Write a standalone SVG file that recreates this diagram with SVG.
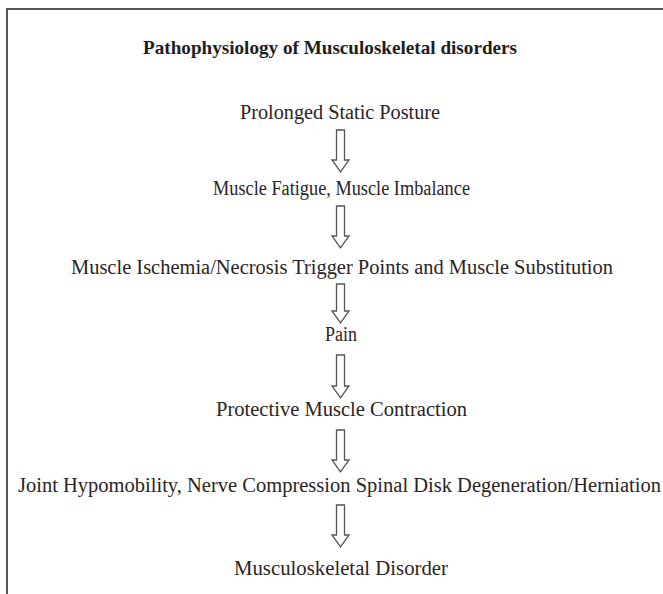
<svg xmlns="http://www.w3.org/2000/svg" width="663" height="594" viewBox="0 0 663 594">
<style>
.t{font-family:"Liberation Serif","Times New Roman",serif;font-size:20px;fill:#2b2424;text-anchor:middle}
.h{font-family:"Liberation Serif","Times New Roman",serif;font-size:19px;font-weight:bold;fill:#1e1e1e;text-anchor:middle}
.a{fill:#fff;stroke:#555;stroke-width:1.3;stroke-linejoin:miter}
.b{fill:none;stroke:#555;stroke-width:2}
</style>
<rect width="663" height="594" fill="#fff"/>
<path class="b" d="M7,594 V9 H663"/>
<g id="title"><text class="h" x="330" y="54" textLength="374" lengthAdjust="spacingAndGlyphs">Pathophysiology of Musculoskeletal disorders</text></g>
<g id="n1"><text class="t" x="340" y="119" textLength="200" lengthAdjust="spacingAndGlyphs">Prolonged Static Posture</text></g>
<g id="n2"><text class="t" x="341.5" y="195" textLength="257" lengthAdjust="spacingAndGlyphs">Muscle Fatigue, Muscle Imbalance</text></g>
<g id="n3"><text class="t" x="342" y="274" textLength="542" lengthAdjust="spacingAndGlyphs">Muscle Ischemia/Necrosis Trigger Points and Muscle Substitution</text></g>
<g id="n4"><text class="t" x="341" y="341" textLength="32" lengthAdjust="spacingAndGlyphs">Pain</text></g>
<g id="n5"><text class="t" x="341.5" y="416" textLength="251" lengthAdjust="spacingAndGlyphs">Protective Muscle Contraction</text></g>
<g id="n6"><text class="t" x="339.5" y="492" textLength="643" lengthAdjust="spacingAndGlyphs">Joint Hypomobility, Nerve Compression Spinal Disk Degeneration/Herniation</text></g>
<g id="n7"><text class="t" x="341" y="575" textLength="214" lengthAdjust="spacingAndGlyphs">Musculoskeletal Disorder</text></g>
<g id="connectors">
<path class="a" d="M336.5,130 H344.5 V160 H349 L340.5,172 L332,160 H336.5 Z"/>
<path class="a" d="M336.5,206 H344.5 V236 H349 L340.5,248 L332,236 H336.5 Z"/>
<path class="a" d="M336.5,284 H344.5 V311 H349 L340.5,323 L332,311 H336.5 Z"/>
<path class="a" d="M336.5,355 H344.5 V386 H349 L340.5,398 L332,386 H336.5 Z"/>
<path class="a" d="M336.5,430 H344.5 V460 H349 L340.5,472 L332,460 H336.5 Z"/>
<path class="a" d="M336.5,505 H344.5 V535 H349 L340.5,547 L332,535 H336.5 Z"/>
</g>
</svg>
